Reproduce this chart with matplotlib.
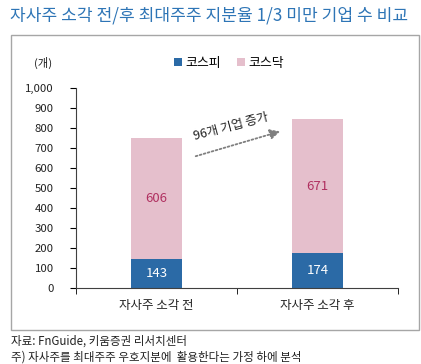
import matplotlib
matplotlib.use('Agg')
import matplotlib.pyplot as plt
from matplotlib.patches import Rectangle

plt.rcParams['font.family'] = ['Noto Sans CJK KR', 'DejaVu Sans']

categories = ['자사주 소각 전', '자사주 소각 후']
kospi = [143, 174]
kosdaq = [606, 671]
series_names = ['코스피', '코스닥']
title = '자사주 소각 전/후 최대주주 지분율 1/3 미만 기업 수 비교'
note_text = '96개 기업 증가'
footnotes = ['자료: FnGuide, 키움증권 리서치센터',
             '주) 자사주를 최대주주 우호지분에  활용한다는 가정 하에 분석']

blue = '#2b6aa6'
pink = '#e5bfcc'
text_c = '#222222'

fig = plt.figure(figsize=(4.21, 3.64), dpi=100)
ax = fig.add_axes([76 / 421, 76 / 364, 322 / 421, 200 / 364])

# outer grey box
fig.patches.append(Rectangle((11 / 421, 34 / 364), 408 / 421, 295 / 364,
                             transform=fig.transFigure, fill=False,
                             edgecolor='#a6a6a6', linewidth=1.0))

x = list(range(len(categories)))
b1 = ax.bar(x, kospi, width=0.32, color=blue, label=series_names[0])
b2 = ax.bar(x, kosdaq, width=0.32, bottom=kospi, color=pink, label=series_names[1])

for i in x:
    ax.text(i, kospi[i] / 2, str(kospi[i]), ha='center', va='center',
            color='white', fontsize=9.5)
    ax.text(i, kospi[i] + kosdaq[i] / 2, str(kosdaq[i]), ha='center', va='center',
            color='#b03060', fontsize=9.5)

ax.set_xlim(-0.5, 1.5)
ax.set_ylim(0, 1000)
ax.set_yticks(range(0, 1001, 100))
ax.set_yticklabels([f'{v:,}' for v in range(0, 1001, 100)], fontsize=8.2, color=text_c)
ax.set_xticks(x)
ax.set_xticklabels(categories, fontsize=9, color=text_c)
ax.tick_params(axis='x', length=0, pad=8)
ax.set_xticks([-0.5, 0.5, 1.5], minor=True)
ax.tick_params(axis='x', which='minor', length=4, direction='out')
ax.tick_params(axis='y', length=4, direction='out', pad=12)
for s in ['top', 'right']:
    ax.spines[s].set_visible(False)
ax.spines['left'].set_color('#404040')
ax.spines['bottom'].set_color('#404040')

# dotted arrow + note
ax.annotate('', xy=(0.785, 787), xytext=(0.227, 655),
            arrowprops=dict(arrowstyle='-|>', linestyle=(0, (1, 1.3)), color='#7f7f7f',
                            lw=1.3, mutation_scale=15))
ax.text(0.46, 808, note_text, ha='center', va='center', rotation=15,
        fontsize=9, color=text_c)

fig.text(34 / 421, 1 - 63 / 364, '(개)', fontsize=8.2, color=text_c, va='center')
fig.legend(handles=[b1, b2], loc='center', bbox_to_anchor=(229 / 421, 1 - 63 / 364),
           ncol=2, frameon=False, fontsize=9.3, handlelength=0.6, handleheight=0.6,
           handletextpad=0.3, columnspacing=1.2)

fig.text(10 / 421, 1 - 15 / 364, title, fontsize=12.3, color='#2e75b6', va='center')
fig.text(11 / 421, 1 - 341 / 364, footnotes[0], fontsize=8.3, color=text_c, va='center')
fig.text(11 / 421, 1 - 357 / 364, footnotes[1], fontsize=8.3, color=text_c, va='center')

fig.savefig('out.png', dpi=100)
